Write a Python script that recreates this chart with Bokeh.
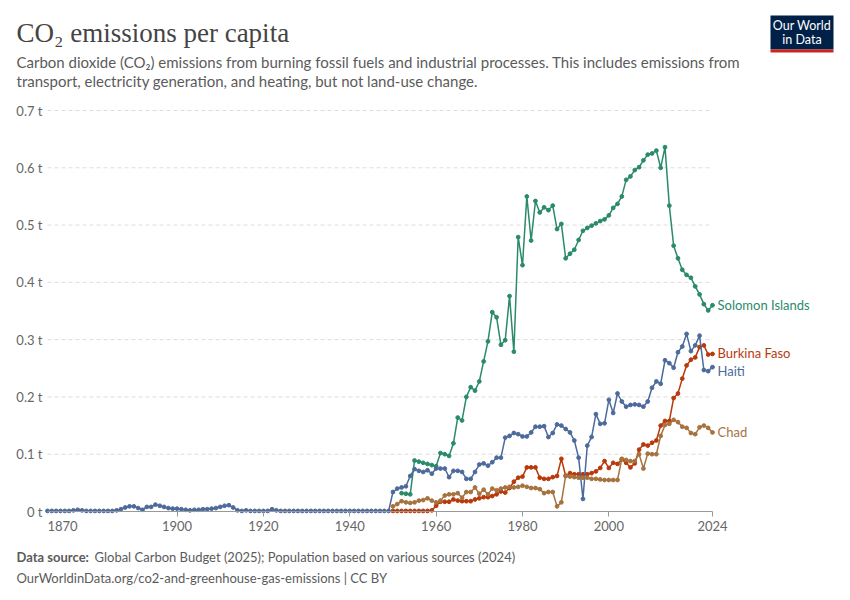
from bokeh.plotting import figure
from bokeh.models import Range1d, FixedTicker, CustomJSTickFormatter
from bokeh.core.properties import value
from bokeh.embed import file_html
from bokeh.resources import INLINE

# data: tonnes of CO2 per person
years_haiti = list(range(1870, 2025))
haiti = [
    0.001, 0.001, 0.001, 0.001, 0.001, 0.001, 0.002, 0.003, 0.002, 0.001,
    0.001, 0.001, 0.001, 0.001, 0.001, 0.001, 0.002, 0.004, 0.007, 0.009,
    0.009, 0.006, 0.003, 0.008, 0.008, 0.012, 0.010, 0.008, 0.006, 0.005,
    0.005, 0.004, 0.003, 0.002, 0.003, 0.003, 0.004, 0.004, 0.005, 0.006,
    0.008, 0.010, 0.011, 0.007, 0.002, 0.001, 0.002, 0.001, 0.001, 0.001,
    0.001, 0.001, 0.004, 0.002, 0.001, 0.001, 0.001, 0.001, 0.001, 0.001,
    0.001, 0.001, 0.001, 0.001, 0.001, 0.001, 0.001, 0.001, 0.001, 0.001,
    0.001, 0.001, 0.001, 0.001, 0.001, 0.001, 0.001, 0.001, 0.001, 0.001,
    0.034, 0.040, 0.042, 0.044, 0.062, 0.074, 0.071, 0.069, 0.072, 0.066,
    0.075, 0.075, 0.075, 0.060, 0.071, 0.071, 0.069, 0.057, 0.057, 0.069,
    0.082, 0.084, 0.080, 0.086, 0.094, 0.094, 0.129, 0.132, 0.137, 0.135,
    0.131, 0.131, 0.138, 0.148, 0.148, 0.149, 0.130, 0.137, 0.152, 0.150,
    0.144, 0.138, 0.124, 0.094, 0.022, 0.115, 0.130, 0.170, 0.153, 0.154,
    0.195, 0.172, 0.206, 0.192, 0.183, 0.186, 0.187, 0.186, 0.183, 0.192,
    0.216, 0.227, 0.223, 0.264, 0.259, 0.251, 0.278, 0.288, 0.310, 0.280,
    0.290, 0.307, 0.247, 0.245, 0.252,
]

years_bf = list(range(1950, 2025))
burkina = [
    0.001, 0.001, 0.001, 0.001, 0.001, 0.001, 0.001, 0.001, 0.001, 0.002,
    0.010, 0.017, 0.017, 0.017, 0.021, 0.019, 0.018, 0.018, 0.018, 0.021,
    0.023, 0.025, 0.025, 0.027, 0.030, 0.035, 0.033, 0.041, 0.052, 0.059,
    0.061, 0.077, 0.077, 0.077, 0.059, 0.057, 0.057, 0.060, 0.062, 0.092,
    0.062, 0.067, 0.065, 0.065, 0.065, 0.065, 0.067, 0.070, 0.076, 0.088,
    0.076, 0.085, 0.083, 0.091, 0.085, 0.077, 0.084, 0.108, 0.117, 0.115,
    0.120, 0.124, 0.150, 0.158, 0.158, 0.198, 0.206, 0.232, 0.255, 0.265,
    0.269, 0.287, 0.290, 0.274, 0.275,
]

years_chad = list(range(1950, 2025))
chad = [
    0.009, 0.013, 0.018, 0.016, 0.015, 0.016, 0.019, 0.020, 0.023, 0.019,
    0.016, 0.019, 0.028, 0.030, 0.030, 0.032, 0.024, 0.034, 0.034, 0.042,
    0.031, 0.038, 0.030, 0.040, 0.037, 0.040, 0.042, 0.043, 0.042, 0.043,
    0.045, 0.043, 0.041, 0.041, 0.039, 0.032, 0.034, 0.034, 0.009, 0.016,
    0.063, 0.061, 0.060, 0.059, 0.059, 0.059, 0.057, 0.057, 0.056, 0.055,
    0.055, 0.055, 0.055, 0.092, 0.090, 0.088, 0.088, 0.100, 0.075, 0.101,
    0.100, 0.100, 0.132, 0.151, 0.153, 0.160, 0.156, 0.148, 0.146, 0.137,
    0.135, 0.147, 0.150, 0.146, 0.138,
]

years_si = list(range(1952, 2025))
solomon = [
    0.032, 0.031, 0.030, 0.089, 0.087, 0.085, 0.083, 0.081,
    0.079, 0.102, 0.100, 0.097, 0.119, 0.164, 0.159, 0.200, 0.217, 0.211,
    0.227, 0.262, 0.297, 0.348, 0.339, 0.291, 0.299, 0.376, 0.279, 0.479,
    0.430, 0.550, 0.473, 0.542, 0.522, 0.531, 0.526, 0.534, 0.493, 0.502,
    0.442, 0.450, 0.457, 0.474, 0.490, 0.495, 0.499, 0.503, 0.507, 0.510,
    0.517, 0.530, 0.537, 0.550, 0.579, 0.585, 0.596, 0.601, 0.613, 0.623,
    0.625, 0.630, 0.600, 0.636, 0.534, 0.464, 0.442, 0.422, 0.413, 0.408,
    0.393, 0.379, 0.362, 0.351, 0.360,
]

series = [
    ("Solomon Islands", years_si, solomon, "#2a8a6a", 0),
    ("Burkina Faso", years_bf, burkina, "#b83a0c", -1),
    ("Haiti", years_haiti, haiti, "#4c6a9c", 4),
    ("Chad", years_chad, chad, "#a6733f", 0),
]

x_ticks = [1900, 1920, 1940, 1960, 1980, 2000, 2024]
y_ticks = [0, 0.1, 0.2, 0.3, 0.4, 0.5, 0.6, 0.7]

# the plotting area of the chart, in page pixels, and its data extent
X0, X1, Y0, Y1 = 1870, 2024, 0.0, 0.7
FL, FR, FT, FB = 47, 712, 110, 511
W, H = 840, 592
kx = (FR - FL) / (X1 - X0)
ky = (FB - FT) / (Y1 - Y0)

def px(x):   # page pixel -> data x
    return X0 + (x - FL) / kx

def py(y):   # page pixel -> data y
    return Y0 + (FB - y) / ky

# the frame covers the whole canvas so that nothing gets clipped;
# the axes are pinned at 1870 / 0 and bounded to the data extent
p = figure(width=W, height=H, output_backend="svg", toolbar_location=None,
           x_range=Range1d(px(0), px(W)), y_range=Range1d(py(H), py(0)),
           min_border=0)
p.outline_line_color = None
p.background_fill_color = "white"
p.border_fill_color = "white"
p.xgrid.visible = False
p.ygrid.visible = False

p.xaxis.fixed_location = Y0
p.xaxis.bounds = (X0, X1)
p.xaxis.ticker = FixedTicker(ticks=x_ticks)
p.xaxis.axis_line_color = "#999999"
p.xaxis.major_tick_line_color = "#999999"
p.xaxis.major_tick_out = 5
p.xaxis.major_tick_in = 0
p.xaxis.minor_tick_line_color = None
p.xaxis.major_label_text_font = "Lato"
p.xaxis.major_label_text_font_size = "13px"
p.xaxis.major_label_text_color = "#666666"
p.xaxis.major_label_standoff = 4

p.yaxis.fixed_location = X0
p.yaxis.bounds = (Y0, Y1)
p.yaxis.ticker = FixedTicker(ticks=y_ticks)
p.yaxis.formatter = CustomJSTickFormatter(
    code="return tick === 0 ? '0 t' : tick.toFixed(1) + ' t';")
p.yaxis.axis_line_color = None
p.yaxis.major_tick_line_color = None
p.yaxis.major_tick_out = 0
p.yaxis.major_tick_in = 0
p.yaxis.minor_tick_line_color = None
p.yaxis.major_label_text_font = "Lato"
p.yaxis.major_label_text_font_size = "13px"
p.yaxis.major_label_text_color = "#666666"
p.yaxis.major_label_standoff = 5

# dashed gridlines over the data extent only
grid_y = y_ticks[1:]
p.segment(x0=[X0] * len(grid_y), x1=[X1] * len(grid_y), y0=grid_y,
          y1=grid_y, line_color="#dddddd", line_width=1, line_dash="4 3",
          level="underlay")

def text(x, y, s, size="13px", color="#5b5b5b", align="left",
         font="Lato", style="normal", baseline="middle"):
    p.text(x=[x], y=[y], text=[s], text_align=align, text_baseline=baseline,
           text_font=value(font), text_font_size=size,
           text_font_style=style, text_color=color)

# first year label, aligned to the left end of the axis
text(X0, py(525), "1870", color="#666666")

for name, yrs, vals, color, dy in series:
    p.line(yrs, vals, line_color=color, line_width=1.5)
    p.scatter(yrs, vals, size=3.8, fill_color=color, line_color=color)
    text(yrs[-1] + 5 / kx, vals[-1] - dy / ky, name, color=color)

# title, subtitle, footer
text(px(16), py(32), "CO\u2082 emissions per capita", size="27px",
     color="#444444", font="Liberation Serif")
subtitle = [
    "Carbon dioxide (CO\u2082) emissions from burning fossil fuels and "
    "industrial processes. This includes emissions from",
    "transport, electricity generation, and heating, but not land-use change.",
]
for i, line in enumerate(subtitle):
    text(px(16), py(61 + 19 * i), line, size="15px")

text(px(16), py(556), "Data source:", size="13px", style="bold")
text(px(94), py(556), "Global Carbon Budget (2025); Population based on "
     "various sources (2024)", size="13px")
text(px(16), py(577), "OurWorldinData.org/co2-and-greenhouse-gas-emissions"
     " | CC BY", size="13px")

# logo
p.quad(left=[px(770)], right=[px(833)], top=[py(15)], bottom=[py(49)],
       fill_color="#002147", line_color=None)
p.quad(left=[px(770)], right=[px(833)], top=[py(49)], bottom=[py(52)],
       fill_color="#ce261e", line_color=None)
for i, line in enumerate(["Our World", "in Data"]):
    text(px(801.5), py(25 + 14 * i), line, size="12.5px", color="white",
         align="center")

open("out.html", "w").write(file_html(p, INLINE))
